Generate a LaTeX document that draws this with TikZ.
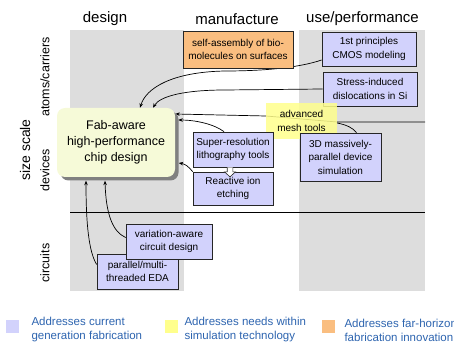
\documentclass[tikz,border=0pt]{standalone}
\usepackage{fontspec}
\setmainfont{Liberation Sans}
\usetikzlibrary{calc,arrows.meta,shadows}

\pgfdeclarelayer{back}
\pgfdeclarelayer{wires}
\pgfsetlayers{back,wires,main}

\definecolor{colgray}{RGB}{221,221,221}
\definecolor{lavender}{RGB}{210,210,252}
\definecolor{meshyellow}{RGB}{255,255,140}
\definecolor{farorange}{RGB}{250,190,128}
\definecolor{fabfill}{RGB}{246,250,216}
\definecolor{legblue}{RGB}{45,100,175}

\begin{document}
\begin{tikzpicture}[x=1pt, y=-1pt,
    box/.style={draw=black!85, line width=0.7pt, inner sep=0pt, align=center,
      font=\fontsize{10}{13.5}\selectfont,
      drop shadow={shadow xshift=1.2pt, shadow yshift=-1.2pt, fill=black!35, opacity=1}},
    current/.style={box, fill=lavender},
    horizon/.style={box, fill=farorange},
    simtech/.style={inner sep=0pt, align=center, font=\fontsize{10}{13.5}\selectfont,
      fill=meshyellow, fill opacity=0.85, text opacity=1},
    fabbox/.style={draw=none, fill=fabfill, rounded corners=8pt, inner sep=0pt, align=center,
      font=\fontsize{12.5}{16}\selectfont,
      drop shadow={shadow xshift=3.5pt, shadow yshift=-3.5pt, fill=black!50, opacity=1}},
    hdr/.style={font=\fontsize{15}{18}\selectfont},
    sidelbl/.style={rotate=90, font=\fontsize{12.5}{15}\selectfont},
    legkey/.style={minimum size=13pt, inner sep=0pt},
    legtxt/.style={anchor=west, align=left, text=legblue, font=\fontsize{11.5}{14}\selectfont},
    wire/.style={line width=0.7pt},
    >={Stealth[length=4.5pt, width=3.5pt]}
  ]
    \useasboundingbox (0,0) rectangle (454,344);

    % columns
    \begin{pgfonlayer}{back}
      \fill[colgray] (70,30) rectangle (184,291);
      \fill[colgray] (299,30) rectangle (425,291);
    \end{pgfonlayer}

    \node[hdr] (hdesign) at (105,19) {design};
    \node[hdr] (hmanuf) at (237,19) {manufacture};
    \node[hdr] (huse) at (362.5,19) {use/performance};

    \node[sidelbl, font=\fontsize{14}{16}\selectfont] (sizescale) at (25,150) {size scale};
    \node[sidelbl] (atoms) at (45,77) {atoms/carriers};
    \node[sidelbl] (devices) at (45,170) {devices};
    \node[sidelbl] (circuits) at (45,263) {circuits};

    % boxes
    \node[horizon, minimum width=110pt, minimum height=37pt] (selfasm) at (238,49.5) {self-assembly of bio-\\molecules on surfaces};
    \node[current, minimum width=94pt, minimum height=34pt] (firstprinc) at (369,49) {1st principles\\CMOS modeling};
    \node[current, minimum width=94pt, minimum height=34pt] (stress) at (370,89) {Stress-induced\\dislocations in Si};
    \node[fabbox, minimum width=118pt, minimum height=69pt] (fab) at (116,142.5) {Fab-aware\\high-performance\\chip design};
    \node[simtech, minimum width=71pt, minimum height=36pt] (mesh) at (301.5,121) {advanced\\mesh tools};
    \node[current, minimum width=81pt, minimum height=48pt] (sim3d) at (340.5,157) {3D massively-\\parallel device\\simulation};
    \node[current, minimum width=80pt, minimum height=35pt] (superres) at (233,149.5) {Super-resolution\\lithography tools};
    \node[current, minimum width=80pt, minimum height=33pt] (rie) at (233,188.5) {Reactive ion\\etching};
    \node[current, minimum width=81pt, minimum height=35pt] (parallel) at (137.5,271.5) {parallel/multi-\\threaded EDA};
    \node[current, minimum width=86pt, minimum height=35pt] (variation) at (169,241.5) {variation-aware\\circuit design};

    \draw[fill=white, draw=black!85, line width=0.6pt, shift={(superres.south)}]
      (-5.8,0) -- (-5.8,4.5) -- (-8.5,4.5) -- (-3,9.5) -- (2.5,4.5) -- (-0.2,4.5) -- (-0.2,0);

    % connectors
    \coordinate (rowtopR) at (425,122);
    \coordinate (rowbotL) at (70,212);
    \coordinate (rowbotR) at (425,212);
    \begin{pgfonlayer}{wires}
      \draw[wire] (rowbotL) -- (rowbotR);
      \draw[wire,->] ($(firstprinc.west)+(0,11)$) .. controls (298,68) and (262,71) .. (225,71)
        .. controls (172,72) and (146,88) .. ($(fab.north)+(24,0)$);
      \draw[wire,->] (stress.west) -- (225,90) .. controls (185,90) and (160,96) .. ($(fab.north)+(37,0)$);
      \draw[wire,->] (rowtopR) -- ($(mesh.east)+(0,1)$) -- ($(mesh.west)+(0,-5)$) -- ($(fab.east)+(0,-28.5)$);
      \draw[wire] ($(mesh.east)+(0,2)$) .. controls (347,125) and (353,128) .. ($(sim3d.north)+(16,0)$);
      \draw[wire,->] ($(superres.north)+(-9,0)$) .. controls (214,124) and (195,120) .. ($(fab.east)+(3,-22.5)$);
      \draw[wire,->] (rie.north west) .. controls (188,166) and (185,164) .. ($(fab.east)+(3.5,20.5)$);
      \draw[wire,->] ($(variation.west)+(0,-4)$) .. controls (113,232) and (106,215) .. ($(fab.south)+(-11,3.5)$);
      \draw[wire,->] ($(parallel.west)+(0,-7)$) .. controls (89,252) and (86,225) .. ($(fab.south)+(-30,3.5)$);
    \end{pgfonlayer}

    % legend
    \node[legkey, fill=lavender] (keycur) at (12.5,326.5) {};
    \node[legtxt] (txtcur) at (28,330) {Addresses current\\generation fabrication};
    \node[legkey, fill=meshyellow] (keysim) at (171.5,326.5) {};
    \node[legtxt] (txtsim) at (181,330) {Addresses needs within\\simulation technology};
    \node[legkey, fill=farorange] (keyfar) at (328.5,326.5) {};
    \node[legtxt] (txtfar) at (341,330) {Addresses far-horizon\\fabrication innovation};
  \end{tikzpicture}
\end{document}
